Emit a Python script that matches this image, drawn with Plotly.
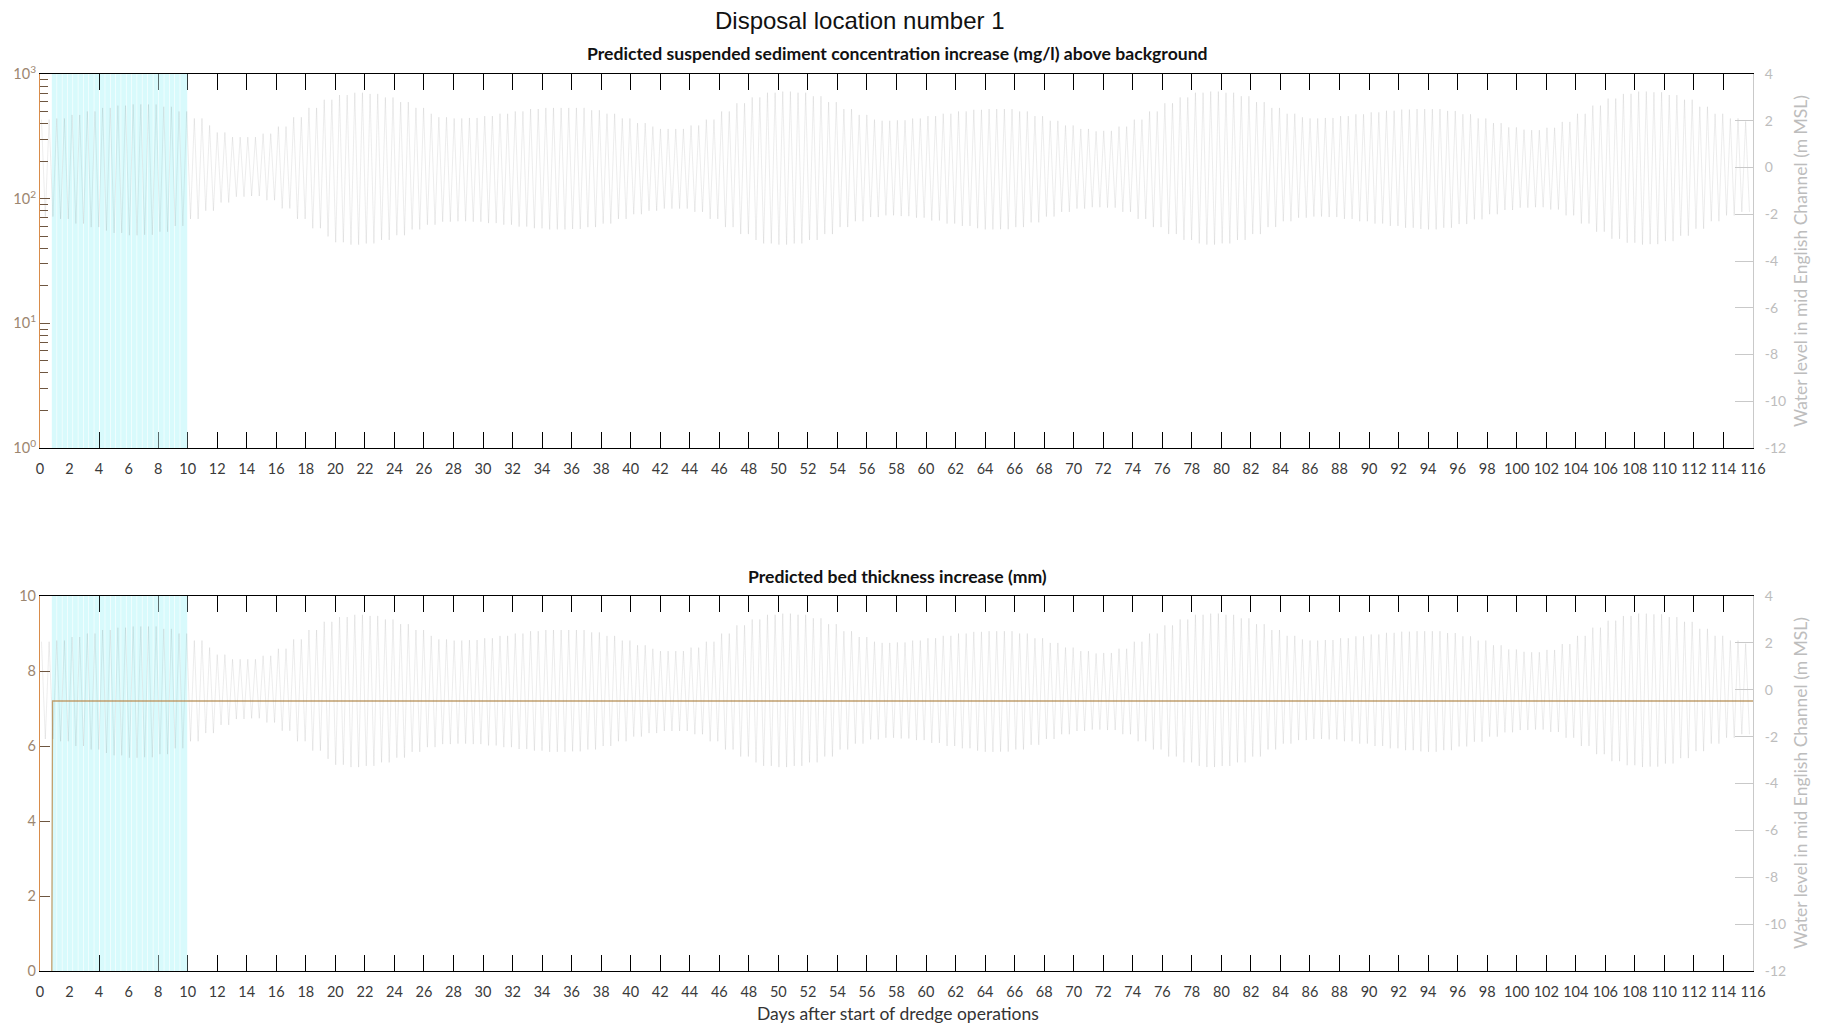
import numpy as np
import plotly.graph_objects as go

# ---------------------------------------------------------------------------
# Data
# ---------------------------------------------------------------------------
# Day number (0..116) used to look up the daily tidal envelope
days = list(range(117))

# Daily high-water / low-water envelope of the tide in mid English Channel (m MSL)
high_water = [
    2.05, 2.10, 2.25, 2.40, 2.55, 2.65, 2.70, 2.70, 2.60, 2.40,
    2.10, 1.80, 1.50, 1.30, 1.30, 1.45, 1.75, 2.15, 2.55, 2.90,
    3.10, 3.20, 3.15, 3.00, 2.80, 2.55, 2.30, 2.15, 2.10, 2.12,
    2.20, 2.30, 2.40, 2.50, 2.55, 2.55, 2.55, 2.45, 2.30, 2.10,
    1.90, 1.75, 1.65, 1.65, 1.80, 2.05, 2.40, 2.75, 3.00, 3.20,
    3.25, 3.20, 3.05, 2.80, 2.50, 2.25, 2.05, 2.00, 2.02, 2.10,
    2.20, 2.30, 2.40, 2.47, 2.50, 2.50, 2.40, 2.20, 2.00, 1.80,
    1.65, 1.55, 1.57, 1.75, 2.05, 2.40, 2.75, 3.00, 3.20, 3.25,
    3.20, 3.05, 2.80, 2.55, 2.30, 2.15, 2.10, 2.12, 2.20, 2.28,
    2.36, 2.43, 2.48, 2.50, 2.50, 2.42, 2.28, 2.10, 1.90, 1.72,
    1.62, 1.60, 1.70, 1.95, 2.30, 2.65, 2.95, 3.15, 3.25, 3.22,
    3.10, 2.90, 2.60, 2.30, 2.10, 1.97, 1.95,
]
low_water = [
    -2.10, -2.20, -2.40, -2.55, -2.70, -2.80, -2.90, -2.88, -2.75, -2.50,
    -2.20, -1.85, -1.50, -1.25, -1.22, -1.40, -1.75, -2.20, -2.60, -2.95,
    -3.20, -3.30, -3.25, -3.10, -2.90, -2.65, -2.45, -2.32, -2.30, -2.32,
    -2.38, -2.45, -2.53, -2.60, -2.65, -2.65, -2.63, -2.55, -2.40, -2.20,
    -2.00, -1.85, -1.76, -1.76, -1.90, -2.20, -2.55, -2.85, -3.10, -3.25,
    -3.30, -3.25, -3.10, -2.85, -2.55, -2.30, -2.12, -2.05, -2.08, -2.15,
    -2.27, -2.40, -2.50, -2.60, -2.65, -2.64, -2.55, -2.35, -2.10, -1.90,
    -1.76, -1.70, -1.72, -1.90, -2.20, -2.55, -2.85, -3.10, -3.25, -3.30,
    -3.25, -3.10, -2.85, -2.55, -2.30, -2.15, -2.10, -2.12, -2.20, -2.30,
    -2.40, -2.50, -2.58, -2.63, -2.65, -2.58, -2.42, -2.22, -2.00, -1.82,
    -1.72, -1.70, -1.80, -2.05, -2.40, -2.75, -3.05, -3.22, -3.30, -3.28,
    -3.15, -2.92, -2.62, -2.30, -2.05, -1.90, -1.85,
]

# Dredge / disposal periods (days after start of operations)
dredge_start = [0.80, 1.16, 1.52, 1.88, 2.24, 2.60, 2.96, 3.32, 3.68, 4.06,
                4.42, 4.78, 5.14, 5.50, 5.86, 6.22, 6.58, 6.94, 7.30, 7.68,
                8.06, 8.42, 8.78, 9.14, 9.50]
dredge_end = [1.12, 1.48, 1.84, 2.20, 2.56, 2.92, 3.28, 3.64, 4.00, 4.38,
              4.74, 5.10, 5.46, 5.82, 6.18, 6.54, 6.90, 7.26, 7.64, 8.02,
              8.38, 8.74, 9.10, 9.46, 9.97]

# Predicted bed thickness increase (mm)
bed_days = [0.80, 0.80, 0.85, 116.0]
bed_thickness = [0.0, 6.1, 7.2, 7.2]

# Axis ticks
x_ticks = list(range(0, 117, 2))
wl_ticks = list(range(-12, 5, 2))
wl_labels = [str(v) for v in wl_ticks]
conc_ticks = [1, 10, 100, 1000]
conc_labels = ["10<sup>0</sup>", "10<sup>1</sup>", "10<sup>2</sup>", "10<sup>3</sup>"]
conc_minor = [m * d for d in (1, 10, 100) for m in range(2, 10)]
bed_ticks = list(range(0, 11, 2))

# ---------------------------------------------------------------------------
# Tide series: alternating high and low water every half M2 period
# ---------------------------------------------------------------------------
HALF_TIDE = 0.25875  # days
FIRST_HW = 0.10
tide_t = FIRST_HW + HALF_TIDE * np.arange(int((116 - FIRST_HW) / HALF_TIDE) + 1)
tide_level = [high_water[days.index(int(t))] if k % 2 == 0 else low_water[days.index(int(t))]
              for k, t in enumerate(tide_t)]


def dredge_polygons(lo, hi):
    xs, ys = [], []
    for s, e in zip(dredge_start, dredge_end):
        xs += [s, e, e, s, s, None]
        ys += [lo, lo, hi, hi, lo, None]
    return xs, ys


W, H = 1822, 1024


def px(x):
    return x / W


def py(y):
    return 1 - y / H


FONT = "Lato"
CYAN = "#d8fafc"
TIDE = "rgba(110,110,110,0.12)"
ORANGE = "#d98c4a"
LEFT_TXT = "#9c8670"
LEFT_TICK = "#6e5640"
RIGHT_CLR = "#c9c9c9"
RIGHT_TXT = "#bdbdbd"

x_dom = [px(40), px(1753)]
top_dom = [py(448), py(74)]
bot_dom = [py(971), py(596)]

fig = go.Figure()

# dredging periods
cx, cy = dredge_polygons(1, 1000)
fig.add_trace(go.Scatter(x=cx, y=cy, xaxis="x", yaxis="y", mode="lines", fill="toself",
                         fillcolor=CYAN, line=dict(width=0), hoverinfo="skip", showlegend=False))
cx, cy = dredge_polygons(0, 10)
fig.add_trace(go.Scatter(x=cx, y=cy, xaxis="x2", yaxis="y3", mode="lines", fill="toself",
                         fillcolor=CYAN, line=dict(width=0), hoverinfo="skip", showlegend=False))

# bed thickness
fig.add_trace(go.Scatter(x=bed_days, y=bed_thickness, xaxis="x2", yaxis="y3", mode="lines",
                         line=dict(color="#c2a06e", width=1.3), showlegend=False))

# water level (right axes)
fig.add_trace(go.Scatter(x=tide_t, y=tide_level, xaxis="x", yaxis="y2", mode="lines",
                         line=dict(color=TIDE, width=1), showlegend=False))
fig.add_trace(go.Scatter(x=tide_t, y=tide_level, xaxis="x2", yaxis="y4", mode="lines",
                         line=dict(color=TIDE, width=1), showlegend=False))

xcommon = dict(
    range=[0, 116], tickmode="array", tickvals=x_ticks, ticktext=[str(v) for v in x_ticks],
    ticks="", showgrid=False, zeroline=False, showline=True, linecolor="black", linewidth=1,
    mirror="ticks", layer="below traces", ticklabelstandoff=8, automargin=False,
    tickfont=dict(family=FONT, size=14.5, color="#3a3a3a"),
    minor=dict(tickmode="array", tickvals=x_ticks[1:-1], ticks="inside", ticklen=16,
               tickcolor="black", tickwidth=1, showgrid=False),
)
rcommon = dict(
    range=[-12, 4], side="right", tickmode="array", tickvals=wl_ticks, ticktext=wl_labels,
    ticks="inside", ticklen=18, tickcolor=RIGHT_CLR, showline=True, linecolor=RIGHT_CLR,
    showgrid=False, zeroline=False, ticklabelstandoff=8, automargin=False,
    tickfont=dict(family=FONT, size=14, color=RIGHT_TXT),
)

fig.update_layout(
    template="none",
    width=W, height=H, margin=dict(l=0, r=0, t=0, b=0, pad=0),
    paper_bgcolor="white", plot_bgcolor="rgba(0,0,0,0)", showlegend=False,
    xaxis=dict(domain=x_dom, anchor="y", **xcommon),
    xaxis2=dict(domain=x_dom, anchor="y3", **xcommon),
    yaxis=dict(domain=top_dom, anchor="x", type="log", range=[0, 3], tickmode="array",
               tickvals=conc_ticks, ticktext=conc_labels, ticks="inside", ticklen=10,
               tickcolor=LEFT_TICK, showline=True, linecolor=ORANGE, linewidth=1.2,
               showgrid=False, zeroline=False, layer="below traces", automargin=False,
               tickfont=dict(family=FONT, size=14.5, color=LEFT_TXT),
               minor=dict(tickmode="array", tickvals=conc_minor, ticks="inside", ticklen=8,
                          tickcolor=LEFT_TICK, showgrid=False)),
    yaxis2=dict(overlaying="y", anchor="x", **rcommon),
    yaxis3=dict(domain=bot_dom, anchor="x2", range=[0, 10], tickmode="array",
                tickvals=bed_ticks, ticktext=[str(v) for v in bed_ticks], ticks="inside",
                ticklen=10, tickcolor=LEFT_TICK, showline=True, linecolor=ORANGE, linewidth=1.2,
                showgrid=False, zeroline=False, layer="below traces", automargin=False,
                tickfont=dict(family=FONT, size=14.5, color=LEFT_TXT)),
    yaxis4=dict(overlaying="y3", anchor="x2", **rcommon),
)

ann = [
    dict(text="Disposal location number 1", x=px(860), y=py(20),
         font=dict(family="Liberation Sans, Arial", size=24, color="#111111")),
    dict(text="<b>Predicted suspended sediment concentration increase (mg/l) above background</b>",
         x=px(897), y=py(53), font=dict(family=FONT, size=17.6, color="#111111")),
    dict(text="<b>Predicted bed thickness increase (mm)</b>",
         x=px(897), y=py(576), font=dict(family=FONT, size=17.6, color="#111111")),
    dict(text="Days after start of dredge operations", x=px(898), y=py(1013),
         font=dict(family=FONT, size=17.5, color="#333333")),
    dict(text="Water level in mid English Channel (m MSL)", x=px(1800), y=py(261),
         textangle=-90, font=dict(family=FONT, size=17.5, color=RIGHT_TXT)),
    dict(text="Water level in mid English Channel (m MSL)", x=px(1800), y=py(783),
         textangle=-90, font=dict(family=FONT, size=17.5, color=RIGHT_TXT)),
]
for a in ann:
    fig.add_annotation(xref="paper", yref="paper", showarrow=False,
                       xanchor="center", yanchor="middle", **a)

fig.write_html("out.html")
